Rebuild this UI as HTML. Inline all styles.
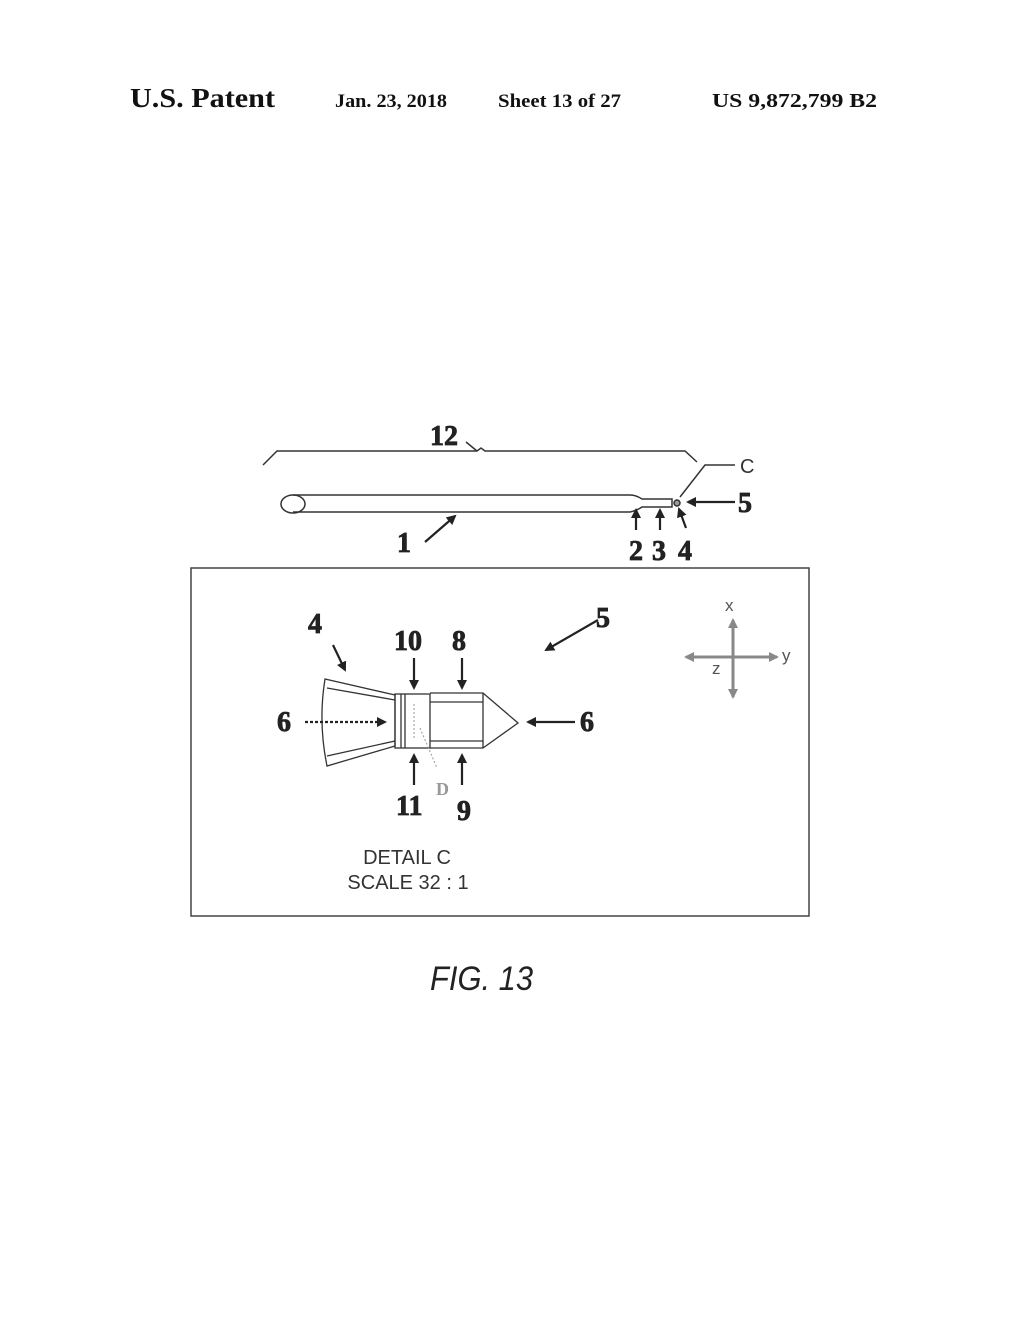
<!DOCTYPE html>
<html><head><style>
body{margin:0;background:#fff;}
svg{display:block;}
</style></head><body>
<svg width="1020" height="1320" viewBox="0 0 1020 1320" xmlns="http://www.w3.org/2000/svg">
<defs>
<marker id="a" markerWidth="10" markerHeight="10" refX="8" refY="5" orient="auto" markerUnits="userSpaceOnUse"><path d="M0,0 L10,5 L0,10 z" fill="#222"/></marker>
<marker id="g" markerWidth="10" markerHeight="10" refX="8" refY="5" orient="auto" markerUnits="userSpaceOnUse"><path d="M0,0 L10,5 L0,10 z" fill="#888"/></marker>
</defs>
<g font-family="Liberation Serif, serif" font-weight="bold" fill="#111">
<text x="130" y="107" font-size="27" textLength="145" lengthAdjust="spacingAndGlyphs">U.S. Patent</text>
<text x="335" y="107" font-size="19" textLength="112" lengthAdjust="spacingAndGlyphs">Jan. 23, 2018</text>
<text x="498" y="107" font-size="19" textLength="123" lengthAdjust="spacingAndGlyphs">Sheet 13 of 27</text>
<text x="712" y="107" font-size="20" textLength="165" lengthAdjust="spacingAndGlyphs">US 9,872,799 B2</text>
</g>
<g stroke="#333" fill="none" stroke-width="1.5">
<path d="M263,465 L277,451 L477,451 L481,448 L485,451 L685,451 L697,462"/>
<line x1="466" y1="442" x2="477" y2="451"/>
<ellipse cx="293" cy="504" rx="12" ry="9"/>
<path d="M293,495 L630,495 Q636,495 642,499 L672,499 L672,507 L642,507 Q636,511 630,512 L293,512"/>
<circle cx="677" cy="503" r="3" fill="#999"/>
<path d="M680,497 L705,465 L735,465"/>
</g>
<g stroke="#222" stroke-width="2.2" fill="none">
<line x1="425" y1="542" x2="455" y2="516" marker-end="url(#a)"/>
<line x1="636" y1="530" x2="636" y2="510" marker-end="url(#a)"/>
<line x1="660" y1="530" x2="660" y2="510" marker-end="url(#a)"/>
<line x1="686" y1="528" x2="679" y2="509" marker-end="url(#a)"/>
<line x1="735" y1="502" x2="688" y2="502" marker-end="url(#a)"/>
</g>
<g font-family="Liberation Serif, serif" font-weight="bold" fill="#222" stroke="#222" stroke-width="0.8" font-size="28">
<text x="430" y="445">12</text>
<text x="397" y="552">1</text>
<text x="629" y="560">2</text>
<text x="652" y="560">3</text>
<text x="678" y="560">4</text>
<text x="738" y="512">5</text>
</g>
<text x="740" y="473" font-family="Liberation Sans, sans-serif" font-size="20" fill="#333">C</text>
<rect x="191" y="568" width="618" height="348" fill="none" stroke="#444" stroke-width="1.5"/>
<g stroke="#333" fill="none" stroke-width="1.3">
<path d="M325,679 L395,695 L395,746 L327,766 Q318,722 325,679 Z"/>
<path d="M327,688 L395,700 M327,756 L395,741"/>
<rect x="395" y="694" width="35" height="54"/>
<line x1="401" y1="694" x2="401" y2="748"/>
<line x1="405" y1="694" x2="405" y2="748"/>
<path d="M430,693 L483,693 L518,723 L483,748 L430,748"/>
<path d="M430,702 L483,702 M430,741 L483,741 M483,693 L483,748"/>
</g>
<g stroke="#999" stroke-width="1" fill="none" stroke-dasharray="2,2">
<line x1="414" y1="704" x2="414" y2="740"/>
<line x1="420" y1="728" x2="437" y2="768"/>
</g>
<text x="436" y="795" font-family="Liberation Serif, serif" font-weight="bold" font-size="18" fill="#999">D</text>
<g stroke="#222" stroke-width="2.2" fill="none">
<line x1="333" y1="645" x2="345" y2="670" marker-end="url(#a)"/>
<line x1="414" y1="658" x2="414" y2="688" marker-end="url(#a)"/>
<line x1="462" y1="658" x2="462" y2="688" marker-end="url(#a)"/>
<line x1="414" y1="785" x2="414" y2="755" marker-end="url(#a)"/>
<line x1="462" y1="785" x2="462" y2="755" marker-end="url(#a)"/>
<line x1="305" y1="722" x2="385" y2="722" stroke-dasharray="3,2" marker-end="url(#a)"/>
<line x1="575" y1="722" x2="528" y2="722" marker-end="url(#a)"/>
<line x1="598" y1="620" x2="546" y2="650" marker-end="url(#a)"/>
</g>
<g font-family="Liberation Serif, serif" font-weight="bold" fill="#222" stroke="#222" stroke-width="0.8" font-size="28">
<text x="308" y="633">4</text>
<text x="394" y="650">10</text>
<text x="452" y="650">8</text>
<text x="277" y="731">6</text>
<text x="580" y="731">6</text>
<text x="596" y="627">5</text>
<text x="396" y="815">11</text>
<text x="457" y="820">9</text>
</g>
<g stroke="#888" stroke-width="3" fill="none">
<line x1="733" y1="655" x2="733" y2="620" marker-end="url(#g)"/>
<line x1="733" y1="655" x2="733" y2="697" marker-end="url(#g)"/>
<line x1="733" y1="657" x2="777" y2="657" marker-end="url(#g)"/>
<line x1="733" y1="657" x2="686" y2="657" marker-end="url(#g)"/>
</g>
<g font-family="Liberation Sans, sans-serif" font-size="17" fill="#555">
<text x="725" y="611">x</text>
<text x="782" y="661">y</text>
<text x="712" y="674">z</text>
</g>
<g font-family="Liberation Sans, sans-serif" font-size="20" fill="#333" text-anchor="middle">
<text x="407" y="864">DETAIL C</text>
<text x="408" y="889">SCALE 32 : 1</text>
</g>
<text x="430" y="990" font-family="Liberation Sans, sans-serif" font-style="italic" font-size="34" fill="#222" textLength="103" lengthAdjust="spacingAndGlyphs">FIG. 13</text>
</svg>
</body></html>
